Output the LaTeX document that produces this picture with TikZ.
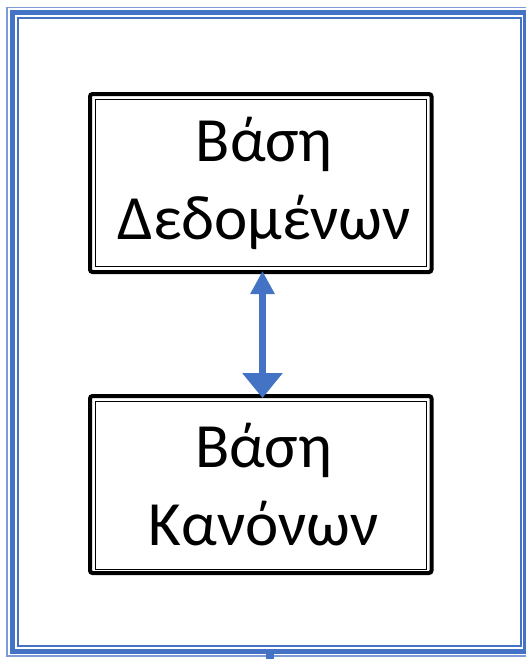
\documentclass[tikz,border=0pt]{standalone}
\usepackage{fontspec}
\setmainfont{Carlito}
\usetikzlibrary{arrows.meta}
\definecolor{frameblue}{HTML}{4472C4}
\definecolor{framelight}{HTML}{7D9BD6}
\begin{document}
\begin{tikzpicture}[x=1pt,y=-1pt,
  box/.style={draw=black, line width=4pt, rounded corners=2.5pt,
    minimum width=341.5pt, inner sep=0pt, outer sep=0pt},
  boxtext/.style={align=center, inner sep=0pt, font=\fontsize{63}{78}\selectfont},
  innerline/.style={draw=black, line width=1pt},
  link/.style={draw=frameblue, line width=7pt,
    {Triangle[length=23pt,width=23pt]}-{Triangle[length=25pt,width=39pt]}}]
  % page area
  \useasboundingbox (0,0) rectangle (526,659);
  \clip (0,0) rectangle (526,659);
  \fill[white] (0,0) rectangle (526,659);

  % triple page border
  \draw[framelight, line width=1.5pt] (7,7.5) rectangle (531,656);
  \draw[frameblue, line width=5pt] (12.5,12.5) rectangle (525.5,651.5);
  \draw[frameblue, line width=2pt] (18,18) rectangle (520.5,645.5);
  \fill[frameblue] (266,651) rectangle (274,659);

  % the two boxes
  \node[box, minimum height=178pt] (db) at (260.75,183) {};
  \draw[innerline] ([shift={(5,5)}]db.north west) rectangle ([shift={(-5.5,-6)}]db.south east);
  \node[boxtext] (dbtext) at ([xshift=3.5pt]db.center) {Βάση\\Δεδομένων};

  \node[box, minimum height=177pt] (kb) at (260.75,484.5) {};
  \draw[innerline] ([shift={(5,5)}]kb.north west) rectangle ([shift={(-5.5,-4)}]kb.south east);
  \node[boxtext] (kbtext) at ([xshift=3pt]kb.center) {Βάση\\Κανόνων};

  % two-way arrow between them
  \draw[link] ([xshift=1.75pt,yshift=1pt]db.south) -- ([xshift=1.75pt,yshift=-2pt]kb.north);
\end{tikzpicture}
\end{document}
